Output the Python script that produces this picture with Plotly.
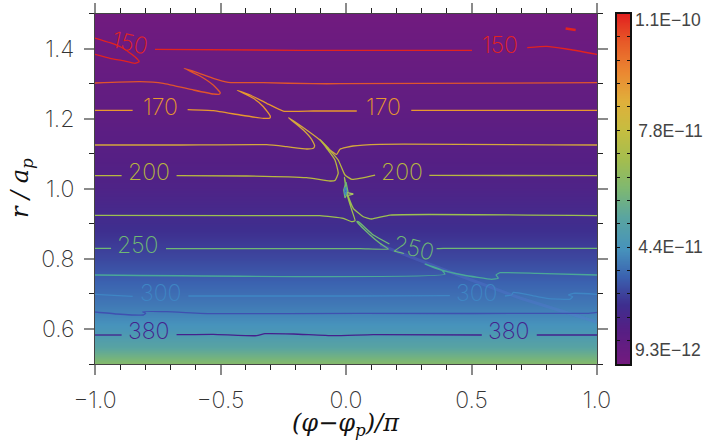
import plotly.graph_objects as go

# Radial profile of the background field (units of 1e-11)
r_grid = [0.5, 0.55, 0.6, 0.65, 0.7, 0.8, 0.9, 1.0, 1.1, 1.2, 1.3, 1.4, 1.5]
z_prof = [6.17, 5.06, 4.35, 3.95, 3.65, 3.04, 2.54, 2.14, 1.89, 1.63, 1.43, 1.23, 1.03]
phi_grid = [-1.0, 0.0, 1.0]

z_min, z_max = 0.93, 11.0
cbar_tick_vals = [4.29, 7.64]
cbar_tick_text = ["4.4E\u221211", "7.8E\u221211"]
cbar_end_labels = ["1.1E\u221210", "9.3E\u221212"]

colorscale = [[0, "#741a7e"], [.1, "#551f84"], [.17, "#3e2f8f"], [.25, "#3b62b0"], [.33, "#4793bc"],
              [.42, "#5aa5a0"], [.5, "#7eb872"], [.58, "#a3bd50"], [.667, "#c6bd40"], [.75, "#e0b03b"],
              [.83, "#eb8a32"], [.92, "#e75a28"], [1, "#e2201f"]]

# Contour paths: (phi, r); labelled contours are split at label gaps
c150 = [([-1, -.94, -.888, -.841, -.824, -.841, -.888, -.94, -1],
         [1.3836, 1.3722, 1.3653, 1.3579, 1.3625, 1.3767, 1.4007, 1.4167, 1.4301]),
        ([-.761, -.183, .502], [1.3978, 1.395, 1.395]),
        ([.722, .8, .879, 1], [1.4024, 1.4064, 1.3987, 1.3836])]
c150_blob = ([.875, .915], [1.457, 1.453])
c160 = [([-1, -.821, -.728, -.608, -.529, -.505, -.501, -.529, -.582, -.645, -.595, -.529, -.469, -.329, -.131, -.024, 1],
         [1.3017, 1.3054, 1.3008, 1.2817, 1.2703, 1.2695, 1.274, 1.296, 1.3217, 1.3436, 1.3322, 1.3151, 1.3037, 1.3025, 1.2997, 1.2997, 1.3025])]
c170 = [([-1, -.85], [1.2238, 1.2238]),
        ([-.631, -.529, -.422, -.329, -.303, -.302, -.329, -.369, -.433, -.382, -.316, -.25, -.13, .043],
         [1.2255, 1.2227, 1.2104, 1.201, 1.2018, 1.2075, 1.2341, 1.258, 1.2809, 1.2675, 1.2438, 1.2218, 1.2218, 1.2218]),
        ([.26, 1], [1.2238, 1.2238])]
c180 = [([-1, -.661, -.316, -.236, -.157, -.13, -.125, -.137, -.17, -.229, -.157, -.104, -.064, -.037, -.024, .028, .135, 1],
         [1.1248, 1.1248, 1.1257, 1.12, 1.1134, 1.1154, 1.1228, 1.1411, 1.1676, 1.2027, 1.1676, 1.1391, 1.1105, 1.0983, 1.1126, 1.122, 1.1268, 1.1248])]
c200 = [([-1, -.894], [1.0372, 1.0372]),
        ([-.675, -.396, -.157, -.064, -.044, -.031, -.044, -.077, -.104, -.071, -.031, -.004, .023, .116],
         [1.0372, 1.0364, 1.0315, 1.0221, 1.0235, 1.0441, 1.082, 1.1154, 1.1411, 1.1154, 1.082, 1.0392, 1.0269, 1.0392]),
        ([.332, 1], [1.0383, 1.0372])]
c220 = [([-1, -.396, -.104, -.011, .023, .036, .023, .003, -.004, -.007, .005, .029, .069, .102, .175, 1],
         [.9243, .9231, .9231, .9157, .906, .9088, .9393, .987, 1.0249, 1.0326, .987, .9442, .9202, .9137, .925, .9231])]
c250 = [([-1, -.936], [.8301, .8301]),
        ([-.717, .056, .169, .135, .096, .043, .049, .109, .173],
         [.829, .829, .8281, .8443, .868, .906, .906, .868, .8424]),
        ([.361, .388, 1], [.8290, .8301, .8301])]
c270 = [([-1, .394, .381, .315, .361, .467, .58, .607, .598, .614, .76, 1],
         [.7539, .7559, .7682, .7853, .7724, .7539, .7416, .7445, .7539, .7605, .7587, .7539])]
c300 = [([-1, -.85], [.6988, .6931]),
        ([-.628, .056, .414], [.694, .694, .6949]),
        ([.633, .66, .667, .733, .8, .892, .903, .886, .906, 1],
         [.694, .6968, .7045, .6968, .6874, .6846, .692, .6968, .7017, .6988])]
c340 = [([-1, -.914, -.808, -.798, -.81, -.714, -.529, .056, .959, 1],
         [.6483, .6427, .6398, .6446, .6492, .6492, .6435, .6446, .6446, .6475])]
c380 = [([-1, -.894], [.5827, .5827]),
        ([-.675, -.529, -.356, -.323, -.21, -.051, .109, .541],
         [.5836, .5847, .5807, .5864, .5856, .5807, .5836, .5827]),
        ([.76, 1], [.5827, .5827])]
eye_teal = ([0, -.009, -.004, .008, 0], [1.0192, .9964, .9736, .9907, 1.0192])
eye_blue = ([-.002, -.006, -.002, .002, -.002], [1.005, .9936, .9821, .9936, 1.005])
eye_spike = ([.005, .029, .009], [.9887, .985, .9813])
wake = ([.135, .414, .693, 1], [.8396, .7625, .6883, .6198])

contours = [(c150, "#e2231f"), (c160, "#e0542c"), (c170, "#e8982e"), (c180, "#d4a83c"), (c200, "#b8b840"),
            (c220, "#9cc050"), (c250, "#6fb974"), (c270, "#4ba898"), (c300, "#3f86c4"), (c340, "#3f50b0"), (c380, "#45208c")]

# Contour labels: text, phi, r, colour, angle
label_text = ["150", "150", "170", "170", "200", "200", "250", "250", "300", "300", "380", "380"]
label_phi = [-.861, .614, -.738, .151, -.785, .222, -.83, .267, -.741, .521, -.785, .649]
label_r = [1.4167, 1.4101, 1.2341, 1.2341, 1.0478, 1.0478, .8395, .831, .704, .704, .5941, .5941]
label_color = ["#e2231f", "#e2231f", "#e8982e", "#e8982e", "#b8b840", "#b8b840", "#6fb974", "#6fb974", "#3f86c4", "#3f86c4", "#45208c", "#45208c"]
label_angle = [12, 0, 0, 0, 0, 0, 0, 14, 0, 0, 0, 0]

FONT = "Inter"
CB_FONT = dict(family="Liberation Sans", size=17.5, color="#444444")
fig = go.Figure()
fig.add_trace(go.Heatmap(x=phi_grid, y=r_grid, z=[[v] * len(phi_grid) for v in z_prof], colorscale=colorscale,
                         zmin=z_min, zmax=z_max, zsmooth="best", showscale=False, hoverinfo="skip"))
fig.add_trace(go.Scatter(x=wake[0], y=wake[1], mode="lines", line=dict(color="rgba(90,120,215,0.30)", width=3), showlegend=False))
for segs, col in contours:
    for xs, ys in segs:
        fig.add_trace(go.Scatter(x=xs, y=ys, mode="lines", line=dict(color=col, width=1.3, shape="spline", smoothing=0.4), showlegend=False))
fig.add_trace(go.Scatter(x=c150_blob[0], y=c150_blob[1], mode="lines", line=dict(color="#e2231f", width=2.5), showlegend=False))
for seg, col in [(eye_teal, "#6fb974"), (eye_blue, "#3f86c4"), (eye_spike, "#a8c260")]:
    fig.add_trace(go.Scatter(x=seg[0], y=seg[1], mode="lines", line=dict(color=col, width=1.3), showlegend=False))

# colour scale strip
strip_vals = [z_min, 2, 3, 4, 5, 6, 7, 8, 9, 10, z_max]
fig.add_trace(go.Heatmap(x=[0, 1], y=strip_vals, z=[[v, v] for v in strip_vals],
                         colorscale=colorscale, zmin=z_min, zmax=z_max, zsmooth="best", showscale=False,
                         xaxis="x2", yaxis="y2", hoverinfo="skip"))

axis_common = dict(showgrid=False, zeroline=False, ticks="outside", mirror="allticks", showline=True, linecolor="#444444", automargin=False,
                   linewidth=1, ticklen=10, tickwidth=1.5, tickcolor="#8a8a8a", tickfont=dict(family=FONT, size=23, color="#333333", weight=200))
fig.update_layout(
    width=710, height=447, margin=dict(l=0, r=0, t=0, b=0), paper_bgcolor="white", plot_bgcolor="white", showlegend=False,
    xaxis=dict(axis_common, domain=[95 / 710, 597 / 710], range=[-1, 1], tickvals=[-1, -.5, 0, .5, 1], tickformat=".1f", ticklabelstandoff=5,
               minor=dict(dtick=.1, ticks="outside", ticklen=5, tickwidth=1, tickcolor="#222222")),
    yaxis=dict(axis_common, domain=[1 - 364 / 447, 1 - 13.5 / 447], range=[.5, 1.5], tickvals=[.6, .8, 1, 1.2, 1.4], tickformat=".1f", ticklabelstandoff=5,
               minor=dict(dtick=.1, ticks="outside", ticklen=5, tickwidth=1, tickcolor="#222222")),
    xaxis2=dict(domain=[617 / 710, 630 / 710], range=[0, 1], showticklabels=False, ticks="", showgrid=False, zeroline=False, automargin=False,
                showline=True, mirror=True, linecolor="#111111", linewidth=1.5, anchor="y2"),
    yaxis2=dict(domain=[1 - 364 / 447, 1 - 13.5 / 447], range=[z_min, z_max], side="right", anchor="x2", tickvals=cbar_tick_vals, ticktext=cbar_tick_text,
                ticks="inside", ticklen=3, tickwidth=1, tickcolor="#111111", mirror="allticks", showline=True, linecolor="#111111", linewidth=1.5, automargin=False,
                showgrid=False, zeroline=False, tickfont=CB_FONT, ticklabelstandoff=3,
                minor=dict(dtick=.6713, tick0=.93, ticks="inside", ticklen=3, tickwidth=1, tickcolor="#111111")),
)
for t, x, y, c, a in zip(label_text, label_phi, label_r, label_color, label_angle):
    fig.add_annotation(x=x, y=y, text=t, showarrow=False, textangle=a, font=dict(family=FONT, size=23, color=c, weight=200))
for lab, ypos in zip(cbar_end_labels, [.981, .04]):
    fig.add_annotation(xref="x2 domain", yref="y2 domain", x=1, y=ypos, xanchor="left", xshift=3, yanchor="middle", text=lab, showarrow=False, font=CB_FONT)
# axis titles
fig.add_annotation(xref="paper", yref="paper", x=346 / 710, y=1 - 424 / 447, xanchor="center", yanchor="middle",
                   text="<i>(\u03c6\u2212\u03c6<sub>p</sub>)/\u03c0</i>", showarrow=False, font=dict(family="DejaVu Serif", size=24, color="#111111"))
fig.add_annotation(xref="paper", yref="paper", x=21 / 710, y=1 - 188 / 447, xanchor="center", yanchor="middle",
                   text="<i>r / a<sub>p</sub></i>", textangle=-90, showarrow=False, font=dict(family="DejaVu Serif", size=24, color="#111111"))

fig.write_html("out.html", config={"displayModeBar": False},
               post_script="document.body.style.margin='0';document.body.style.overflow='hidden';")
